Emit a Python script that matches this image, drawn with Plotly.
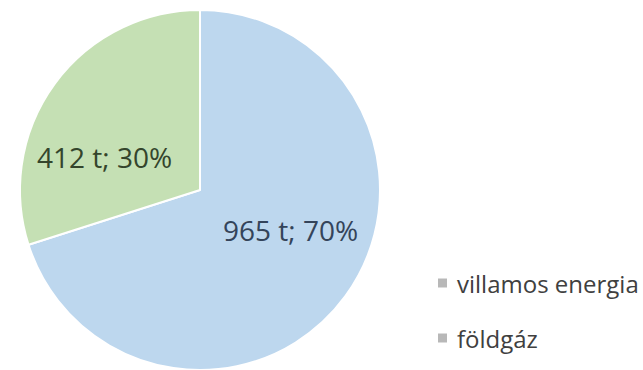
import plotly.graph_objects as go

# Energy source breakdown (tonnes)
labels = ["villamos energia", "földgáz"]
values = [965, 412]
slice_colors = ["#BDD7EE", "#C5E0B4"]
label_colors = ["#34445a", "#34452c"]

W, H = 643, 370
total = sum(values)
texts = [f"{v} t; {round(100 * v / total)}%" for v in values]

fig = go.Figure(
    go.Pie(
        labels=labels,
        values=values,
        textinfo="none",
        marker=dict(colors=slice_colors, line=dict(color="white", width=2)),
        sort=False,
        direction="clockwise",
        rotation=0,
        showlegend=False,
        hoverinfo="label+value+percent",
        domain=dict(x=[20 / W, 380 / W], y=[0, 360 / H]),
    )
)

# Data labels placed inside each slice
label_pos = [(290, 230), (104, 157)]
for txt, col, (px, py) in zip(texts, label_colors, label_pos):
    fig.add_annotation(
        x=px / W, y=1 - py / H, xref="paper", yref="paper",
        text=txt, showarrow=False, xanchor="center", yanchor="middle",
        font=dict(family="Open Sans", size=28, color=col),
    )

# Legend drawn as small grey squares with labels
legend_y = [283, 338]
for lab, yy in zip(labels, legend_y):
    fig.add_shape(
        type="rect", xref="paper", yref="paper",
        x0=438 / W, x1=447 / W, y0=1 - (yy + 4.5) / H, y1=1 - (yy - 4.5) / H,
        fillcolor="#b8b8b8", line=dict(width=0),
    )
    fig.add_annotation(
        x=455 / W, y=1 - yy / H, xref="paper", yref="paper",
        text=lab, showarrow=False, xanchor="left", yanchor="middle",
        font=dict(family="Open Sans", size=24, color="#404040"),
    )

fig.update_layout(
    width=W, height=H,
    margin=dict(l=0, r=0, t=0, b=0),
    paper_bgcolor="white",
    plot_bgcolor="white",
)

fig.write_html("out.html")
